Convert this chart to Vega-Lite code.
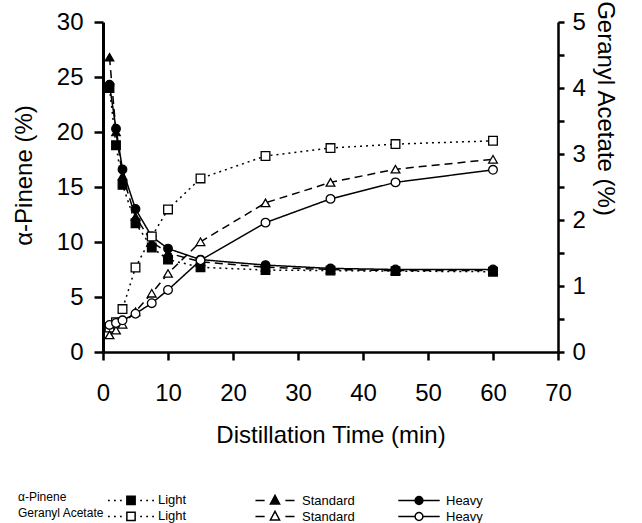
{
  "$schema": "https://vega.github.io/schema/vega-lite/v6.json",
  "autosize": {"type": "none"},
  "padding": {"left": 103, "top": 22, "right": 84, "bottom": 171},
  "width": 455,
  "height": 330,
  "background": "white",
  "config": {
    "view": {"stroke": null},
    "font": "Liberation Sans",
    "axis": {
      "domainColor": "black", "tickColor": "black", "labelColor": "black", "titleColor": "black",
      "grid": false, "labelFont": "Liberation Sans", "titleFont": "Liberation Sans",
      "labelFontSize": 24, "titleFontSize": 24, "titleFontWeight": "normal",
      "domainWidth": 2.5, "tickWidth": 2.5
    },
    "legend": {
      "labelFont": "Liberation Sans", "titleFont": "Liberation Sans", "labelFontSize": 13, "titleFontSize": 12,
      "titleFontWeight": "normal", "labelColor": "black", "titleColor": "black", "padding": 0
    }
  },
  "data": {
    "values": [
      {"time": 1, "compound": "α-Pinene", "sample": "Light", "value": 24.0},
      {"time": 2, "compound": "α-Pinene", "sample": "Light", "value": 18.8},
      {"time": 3, "compound": "α-Pinene", "sample": "Light", "value": 15.2},
      {"time": 5, "compound": "α-Pinene", "sample": "Light", "value": 11.7},
      {"time": 7.5, "compound": "α-Pinene", "sample": "Light", "value": 9.5},
      {"time": 10, "compound": "α-Pinene", "sample": "Light", "value": 8.4},
      {"time": 15, "compound": "α-Pinene", "sample": "Light", "value": 7.7},
      {"time": 25, "compound": "α-Pinene", "sample": "Light", "value": 7.45},
      {"time": 35, "compound": "α-Pinene", "sample": "Light", "value": 7.4},
      {"time": 45, "compound": "α-Pinene", "sample": "Light", "value": 7.35},
      {"time": 60, "compound": "α-Pinene", "sample": "Light", "value": 7.3},
      {"time": 1, "compound": "α-Pinene", "sample": "Standard", "value": 26.8},
      {"time": 2, "compound": "α-Pinene", "sample": "Standard", "value": 20.0},
      {"time": 3, "compound": "α-Pinene", "sample": "Standard", "value": 16.0},
      {"time": 5, "compound": "α-Pinene", "sample": "Standard", "value": 12.3},
      {"time": 7.5, "compound": "α-Pinene", "sample": "Standard", "value": 10.0},
      {"time": 10, "compound": "α-Pinene", "sample": "Standard", "value": 9.0},
      {"time": 15, "compound": "α-Pinene", "sample": "Standard", "value": 8.2},
      {"time": 25, "compound": "α-Pinene", "sample": "Standard", "value": 7.7},
      {"time": 35, "compound": "α-Pinene", "sample": "Standard", "value": 7.5},
      {"time": 45, "compound": "α-Pinene", "sample": "Standard", "value": 7.4},
      {"time": 60, "compound": "α-Pinene", "sample": "Standard", "value": 7.4},
      {"time": 1, "compound": "α-Pinene", "sample": "Heavy", "value": 24.3},
      {"time": 2, "compound": "α-Pinene", "sample": "Heavy", "value": 20.3},
      {"time": 3, "compound": "α-Pinene", "sample": "Heavy", "value": 16.6},
      {"time": 5, "compound": "α-Pinene", "sample": "Heavy", "value": 13.0},
      {"time": 7.5, "compound": "α-Pinene", "sample": "Heavy", "value": 10.5},
      {"time": 10, "compound": "α-Pinene", "sample": "Heavy", "value": 9.4},
      {"time": 15, "compound": "α-Pinene", "sample": "Heavy", "value": 8.4},
      {"time": 25, "compound": "α-Pinene", "sample": "Heavy", "value": 7.9},
      {"time": 35, "compound": "α-Pinene", "sample": "Heavy", "value": 7.6},
      {"time": 45, "compound": "α-Pinene", "sample": "Heavy", "value": 7.5},
      {"time": 60, "compound": "α-Pinene", "sample": "Heavy", "value": 7.5},
      {"time": 1, "compound": "Geranyl Acetate", "sample": "Light", "value": 0.37},
      {"time": 2, "compound": "Geranyl Acetate", "sample": "Light", "value": 0.45},
      {"time": 3, "compound": "Geranyl Acetate", "sample": "Light", "value": 0.65},
      {"time": 5, "compound": "Geranyl Acetate", "sample": "Light", "value": 1.28},
      {"time": 7.5, "compound": "Geranyl Acetate", "sample": "Light", "value": 1.75},
      {"time": 10, "compound": "Geranyl Acetate", "sample": "Light", "value": 2.16},
      {"time": 15, "compound": "Geranyl Acetate", "sample": "Light", "value": 2.63},
      {"time": 25, "compound": "Geranyl Acetate", "sample": "Light", "value": 2.97},
      {"time": 35, "compound": "Geranyl Acetate", "sample": "Light", "value": 3.09},
      {"time": 45, "compound": "Geranyl Acetate", "sample": "Light", "value": 3.15},
      {"time": 60, "compound": "Geranyl Acetate", "sample": "Light", "value": 3.2},
      {"time": 1, "compound": "Geranyl Acetate", "sample": "Standard", "value": 0.26},
      {"time": 2, "compound": "Geranyl Acetate", "sample": "Standard", "value": 0.33},
      {"time": 3, "compound": "Geranyl Acetate", "sample": "Standard", "value": 0.42},
      {"time": 5, "compound": "Geranyl Acetate", "sample": "Standard", "value": 0.61},
      {"time": 7.5, "compound": "Geranyl Acetate", "sample": "Standard", "value": 0.89},
      {"time": 10, "compound": "Geranyl Acetate", "sample": "Standard", "value": 1.19},
      {"time": 15, "compound": "Geranyl Acetate", "sample": "Standard", "value": 1.67},
      {"time": 25, "compound": "Geranyl Acetate", "sample": "Standard", "value": 2.26},
      {"time": 35, "compound": "Geranyl Acetate", "sample": "Standard", "value": 2.57},
      {"time": 45, "compound": "Geranyl Acetate", "sample": "Standard", "value": 2.77},
      {"time": 60, "compound": "Geranyl Acetate", "sample": "Standard", "value": 2.92},
      {"time": 1, "compound": "Geranyl Acetate", "sample": "Heavy", "value": 0.41},
      {"time": 2, "compound": "Geranyl Acetate", "sample": "Heavy", "value": 0.44},
      {"time": 3, "compound": "Geranyl Acetate", "sample": "Heavy", "value": 0.48},
      {"time": 5, "compound": "Geranyl Acetate", "sample": "Heavy", "value": 0.58},
      {"time": 7.5, "compound": "Geranyl Acetate", "sample": "Heavy", "value": 0.74},
      {"time": 10, "compound": "Geranyl Acetate", "sample": "Heavy", "value": 0.94},
      {"time": 15, "compound": "Geranyl Acetate", "sample": "Heavy", "value": 1.39},
      {"time": 25, "compound": "Geranyl Acetate", "sample": "Heavy", "value": 1.96},
      {"time": 35, "compound": "Geranyl Acetate", "sample": "Heavy", "value": 2.32},
      {"time": 45, "compound": "Geranyl Acetate", "sample": "Heavy", "value": 2.57},
      {"time": 60, "compound": "Geranyl Acetate", "sample": "Heavy", "value": 2.76}
    ]
  },
  "layer": [
    {
      "transform": [{"filter": "datum.compound === 'α-Pinene'"}],
      "encoding": {
        "x": {"field": "time", "type": "quantitative", "scale": {"domain": [0, 70], "nice": false},
          "axis": {"values": [0, 10, 20, 30, 40, 50, 60, 70], "title": "Distillation Time (min)", "tickSize": 8, "labelPadding": 21, "titlePadding": 18, "labelFlush": false}},
        "y": {"field": "value", "type": "quantitative", "scale": {"domain": [0, 30], "nice": false},
          "axis": {"orient": "left", "values": [0, 5, 10, 15, 20, 25, 30], "title": "α-Pinene (%)", "tickSize": 9, "labelPadding": 11, "titlePadding": 20, "domainWidth": 3, "labelFlush": false, "titleY": 153}}
      },
      "layer": [
        {
          "mark": {"type": "line", "stroke": "black", "strokeWidth": 1.5},
          "encoding": {
            "strokeDash": {"field": "sample", "type": "nominal", "scale": {"domain": ["Heavy", "Light", "Standard"], "range": [[1, 0], [2, 4], [8, 5]]}, "legend": null}
          }
        },
        {
          "mark": {"type": "point", "filled": true, "stroke": "black", "strokeWidth": 1.2, "size": 75, "opacity": 1},
          "encoding": {
            "shape": {"field": "sample", "type": "nominal",
              "scale": {"domain": ["Heavy", "Light", "Standard"], "range": ["circle", "square", "triangle-up"]}, "legend": null},
            "fill": {"field": "sample", "type": "nominal",
              "scale": {"domain": ["Light", "Standard", "Heavy"], "range": ["black", "black", "black"]},
              "legend": {
                "title": "α-Pinene", "orient": "none", "legendX": -85, "legendY": 454, "direction": "horizontal",
                "columns": 3, "gridAlign": "all", "columnPadding": 40, "titleOrient": "left", "titleAnchor": "middle", "titleBaseline": "top",
                "titlePadding": 40, "symbolSize": 2116, "symbolStrokeWidth": 1.5, "symbolStrokeColor": "black", "symbolOpacity": 1, "labelOffset": 3,
                "symbolType": {"expr": "datum.value === 'Light' ? 'M-1,0L-0.92,0M-0.74,0L-0.66,0M-0.48,0L-0.4,0M0.4,0L0.48,0M0.66,0L0.74,0M0.92,0L1,0M-0.18,-0.18L0.18,-0.18L0.18,0.18L-0.18,0.18Z' : datum.value === 'Standard' ? 'M-0.85,0L-0.45,0M0.45,0L0.85,0M0,-0.22L0.2,0.15L-0.2,0.15Z' : 'M-0.9,0L-0.17,0M0.17,0L0.9,0M0.17,0C0.17,0.094 0.094,0.17 0,0.17C-0.094,0.17 -0.17,0.094 -0.17,0C-0.17,-0.094 -0.094,-0.17 0,-0.17C0.094,-0.17 0.17,-0.094 0.17,0Z'"}
              }
            }
          }
        }
      ]
    },
    {
      "transform": [{"filter": "datum.compound === 'Geranyl Acetate'"}],
      "encoding": {
        "x": {"field": "time", "type": "quantitative", "scale": {"domain": [0, 70], "nice": false}},
        "y": {"field": "value", "type": "quantitative", "scale": {"domain": [0, 5], "nice": false},
          "axis": {"orient": "right", "values": [0, 0.5, 1, 1.5, 2, 2.5, 3, 3.5, 4, 4.5, 5], "labelExpr": "datum.value % 1 === 0 ? format(datum.value, 'd') : ''", "title": "Geranyl Acetate (%)", "tickSize": 6, "labelPadding": 8, "titlePadding": 7, "labelFlush": false, "titleY": 86}}
      },
      "layer": [
        {
          "mark": {"type": "line", "stroke": "black", "strokeWidth": 1.5},
          "encoding": {
            "strokeDash": {"field": "sample", "type": "nominal", "scale": {"domain": ["Heavy", "Light", "Standard"], "range": [[1, 0], [2, 4], [8, 5]]}, "legend": null}
          }
        },
        {
          "mark": {"type": "point", "filled": true, "stroke": "black", "strokeWidth": 1.3, "size": 75, "opacity": 1},
          "encoding": {
            "shape": {"field": "sample", "type": "nominal",
              "scale": {"domain": ["Heavy", "Light", "Standard"], "range": ["circle", "square", "triangle-up"]}, "legend": null},
            "fill": {"field": "sample", "type": "nominal",
              "scale": {"domain": ["Light", "Standard", "Heavy"], "range": ["white", "white", "white"]},
              "legend": {
                "title": "Geranyl Acetate", "orient": "none", "legendX": -85, "legendY": 470, "direction": "horizontal",
                "columns": 3, "gridAlign": "all", "columnPadding": 40, "titleOrient": "left", "titleAnchor": "middle", "titleBaseline": "top",
                "titlePadding": 2, "symbolSize": 2116, "symbolStrokeWidth": 1.5, "symbolStrokeColor": "black", "symbolOpacity": 1, "labelOffset": 3,
                "symbolType": {"expr": "datum.value === 'Light' ? 'M-1,0L-0.92,0M-0.74,0L-0.66,0M-0.48,0L-0.4,0M0.4,0L0.48,0M0.66,0L0.74,0M0.92,0L1,0M-0.18,-0.18L0.18,-0.18L0.18,0.18L-0.18,0.18Z' : datum.value === 'Standard' ? 'M-0.85,0L-0.45,0M0.45,0L0.85,0M0,-0.22L0.2,0.15L-0.2,0.15Z' : 'M-0.9,0L-0.17,0M0.17,0L0.9,0M0.17,0C0.17,0.094 0.094,0.17 0,0.17C-0.094,0.17 -0.17,0.094 -0.17,0C-0.17,-0.094 -0.094,-0.17 0,-0.17C0.094,-0.17 0.17,-0.094 0.17,0Z'"}
              }
            }
          }
        }
      ]
    }
  ],
  "resolve": {"scale": {"y": "independent", "shape": "independent", "strokeDash": "independent", "fill": "independent"}}
}
